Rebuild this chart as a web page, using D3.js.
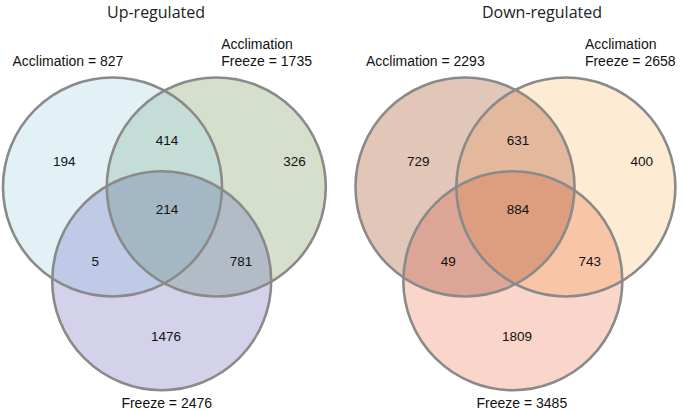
<!DOCTYPE html>
<html>
<head>
<meta charset="utf-8">
<script src="https://cdn.jsdelivr.net/npm/d3@7/dist/d3.min.js"></script>
<style>
  html, body { margin: 0; padding: 0; background: #fff; }
  svg { display: block; }
</style>
</head>
<body>
<svg id="chart" width="685" height="411"></svg>
<script>
// ---- data ----
const panels = ["Up-regulated", "Down-regulated"];
const setNames = ["Acclimation", "Acclimation\nFreeze", "Freeze"];
const upTotals = [827, 1735, 2476];
const downTotals = [2293, 2658, 3485];
// region order: A only, B only, C only, AB, AC, BC, ABC
const regionKeys = ["A", "B", "C", "AB", "AC", "BC", "ABC"];
const upCounts = [194, 326, 1476, 414, 5, 781, 214];
const downCounts = [729, 400, 1809, 631, 49, 743, 884];
const upColors = ["#e2f1f6", "#d5dfcb", "#d4d2ea", "#c4ddd6", "#bfcae6", "#b3bcc6", "#a4b7c4"];
const downColors = ["#e2c6b8", "#fdebd3", "#f9d5ca", "#e3b89c", "#dca596", "#f8c6a6", "#dd9d7f"];

const svg = d3.select("#chart");

// layout in abstract units
const circleUnits = { A: [0, 0], B: [0.97, 0], C: [0.46, 0.86] };
const labelUnits = {
  A: [-0.45, -0.23], B: [1.7, -0.23], C: [0.5, 1.37],
  AB: [0.51, -0.43], AC: [-0.16, 0.68], BC: [1.2, 0.68], ABC: [0.51, 0.21]
};
const panelOffsets = [112.5, 465];
const sy = d3.scaleLinear().domain([0, 1]).range([187, 187 + 109]);
const R = 109.5;
const tf = "Liberation Sans, Arial, sans-serif";

const defs = svg.append("defs");

const datasets = [
  { title: panels[0], totals: upTotals, counts: upCounts, colors: upColors, ox: panelOffsets[0], titleX: 156, bx: 107, aShift: 0, bShift: 5, cShift: 5 },
  { title: panels[1], totals: downTotals, counts: downCounts, colors: downColors, ox: panelOffsets[1], titleX: 542, bx: 104, aShift: 1, bShift: 19, cShift: 9 }
];

datasets.forEach((d, pi) => {
  const sxp = d3.scaleLinear().domain([0, 1]).range([d.ox, d.ox + d.bx]);
  const cx = k => sxp(circleUnits[k][0]);
  const cy = k => sy(circleUnits[k][1]);
  const g = svg.append("g");

  ["A", "B", "C"].forEach(k => {
    defs.append("clipPath").attr("id", `clip${pi}${k}`)
      .append("circle").attr("cx", cx(k)).attr("cy", cy(k)).attr("r", R);
  });
  const col = Object.fromEntries(regionKeys.map((k, i) => [k, d.colors[i]]));

  // solo fills
  ["A", "B", "C"].forEach(k => {
    g.append("circle").attr("cx", cx(k)).attr("cy", cy(k)).attr("r", R).attr("fill", col[k]);
  });
  // pair intersections
  [["AB", "A", "B"], ["AC", "A", "C"], ["BC", "B", "C"]].forEach(([key, p, q]) => {
    g.append("g").attr("clip-path", `url(#clip${pi}${p})`)
      .append("circle").attr("cx", cx(q)).attr("cy", cy(q)).attr("r", R).attr("fill", col[key]);
  });
  // triple
  g.append("g").attr("clip-path", `url(#clip${pi}A)`)
    .append("g").attr("clip-path", `url(#clip${pi}B)`)
    .append("circle").attr("cx", cx("C")).attr("cy", cy("C")).attr("r", R).attr("fill", col.ABC);
  // outlines
  ["A", "B", "C"].forEach(k => {
    g.append("circle").attr("cx", cx(k)).attr("cy", cy(k)).attr("r", R)
      .attr("fill", "none").attr("stroke", "#8a8a8a").attr("stroke-width", 2.6);
  });

  // region counts
  regionKeys.forEach((k, i) => {
    const u = labelUnits[k];
    g.append("text")
      .attr("x", sxp(u[0])).attr("y", sy(u[1]))
      .attr("text-anchor", "middle").attr("dominant-baseline", "central")
      .attr("font-family", tf).attr("font-size", 13.5)
      .attr("fill", "#111").text(d.counts[i]);
  });

  // set labels
  g.append("text").attr("x", cx("A") - 100 + d.aShift).attr("y", 66)
    .attr("font-family", tf).attr("font-size", 14).attr("fill", "#111")
    .text(`${setNames[0]} = ${d.totals[0]}`);
  g.append("text").attr("x", cx("B") + d.bShift).attr("y", 49)
    .attr("font-family", tf).attr("font-size", 14).attr("fill", "#111")
    .text(setNames[1].split("\n")[0]);
  g.append("text").attr("x", cx("B") + d.bShift).attr("y", 66)
    .attr("font-family", tf).attr("font-size", 14).attr("fill", "#111")
    .text(`${setNames[1].split("\n")[1]} = ${d.totals[1]}`);
  g.append("text").attr("x", cx("C") + d.cShift).attr("y", 408)
    .attr("text-anchor", "middle")
    .attr("font-family", tf).attr("font-size", 14).attr("fill", "#111")
    .text(`${setNames[2]} = ${d.totals[2]}`);

  // title
  svg.append("text").attr("x", d.titleX).attr("y", 17.5)
    .attr("text-anchor", "middle")
    .attr("font-family", "Open Sans, Noto Sans, sans-serif").attr("font-size", 16)
    .attr("fill", "#222").text(d.title);
});
</script>
</body>
</html>
